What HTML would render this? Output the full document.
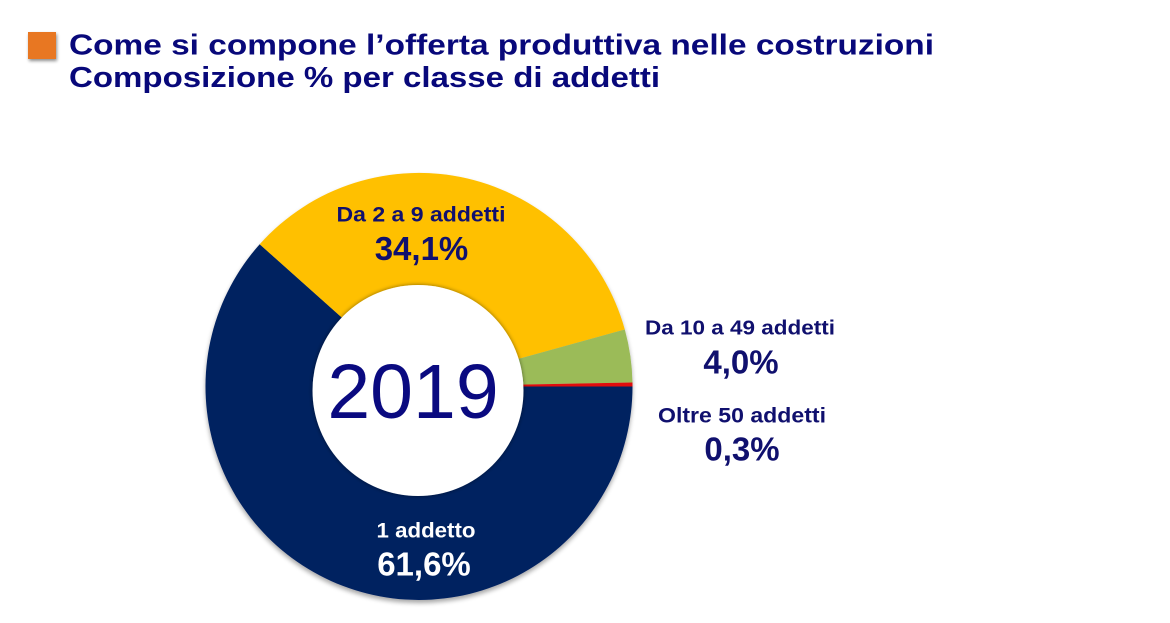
<!DOCTYPE html>
<html>
<head>
<meta charset="utf-8">
<style>
  html, body { margin: 0; padding: 0; background: #ffffff; }
  body { width: 1170px; height: 623px; overflow: hidden; }
  svg { display: block; }
</style>
</head>
<body>
<svg width="1170" height="623" viewBox="0 0 1170 623" xmlns="http://www.w3.org/2000/svg">
  <defs>
    <filter id="sq" x="-30%" y="-30%" width="170%" height="170%">
      <feGaussianBlur in="SourceAlpha" stdDeviation="1.5"/>
      <feOffset dx="1" dy="2" result="o"/>
      <feComponentTransfer><feFuncA type="linear" slope="0.45"/></feComponentTransfer>
      <feMerge><feMergeNode/><feMergeNode in="SourceGraphic"/></feMerge>
    </filter>
    <filter id="pie" x="-10%" y="-10%" width="120%" height="120%">
      <feGaussianBlur in="SourceAlpha" stdDeviation="2.5"/>
      <feOffset dx="0" dy="3" result="o"/>
      <feComponentTransfer><feFuncA type="linear" slope="0.35"/></feComponentTransfer>
      <feMerge><feMergeNode/><feMergeNode in="SourceGraphic"/></feMerge>
    </filter>
    <filter id="hole" x="-20%" y="-20%" width="140%" height="140%">
      <feGaussianBlur in="SourceAlpha" stdDeviation="2"/>
      <feOffset dx="0" dy="0" result="o"/>
      <feComponentTransfer><feFuncA type="linear" slope="0.5"/></feComponentTransfer>
      <feMerge><feMergeNode/><feMergeNode in="SourceGraphic"/></feMerge>
    </filter>
  </defs>

  <!-- Title -->
  <rect x="28" y="32" width="28" height="27" fill="#E87722" filter="url(#sq)"/>
  <text x="69" y="54.5" font-family="'Liberation Sans', sans-serif" font-weight="bold" font-size="29" fill="#08087A" textLength="865" lengthAdjust="spacingAndGlyphs">Come si compone l’offerta produttiva nelle costruzioni</text>
  <text x="69" y="87" font-family="'Liberation Sans', sans-serif" font-weight="bold" font-size="29" fill="#08087A" textLength="591" lengthAdjust="spacingAndGlyphs">Composizione % per classe di addetti</text>

  <!-- Donut -->
  <g filter="url(#pie)">
    <path d="M419,386.5 L632.5,386.5 A213.5,213.5 0 1 1 259.7,244.3 Z" fill="#002060"/>
    <path d="M419,386.5 L259.7,244.3 A213.5,213.5 0 0 1 624.8,329.5 Z" fill="#FFC000"/>
    <path d="M419,386.5 L624.8,329.5 A213.5,213.5 0 0 1 632.46,382.5 Z" fill="#9BBB59"/>
    <path d="M419,386.5 L632.46,382.5 A213.5,213.5 0 0 1 632.5,386.5 Z" fill="#E01010"/>
  </g>
  <circle cx="418" cy="390.5" r="105.5" fill="#ffffff" filter="url(#hole)"/>

  <text x="413" y="418" text-anchor="middle" font-family="'Liberation Sans', sans-serif" font-size="77" fill="#0A0A80">2019</text>

  <!-- Slice labels -->
  <text x="421" y="221.5" text-anchor="middle" font-family="'Liberation Sans', sans-serif" font-weight="bold" font-size="21" fill="#10106E" textLength="169" lengthAdjust="spacingAndGlyphs">Da 2 a 9 addetti</text>
  <text x="421.5" y="260" text-anchor="middle" font-family="'Liberation Sans', sans-serif" font-weight="bold" font-size="33" fill="#10106E">34,1%</text>

  <text x="426" y="537.3" text-anchor="middle" font-family="'Liberation Sans', sans-serif" font-weight="bold" font-size="21" fill="#ffffff" textLength="99" lengthAdjust="spacingAndGlyphs">1 addetto</text>
  <text x="424" y="575.7" text-anchor="middle" font-family="'Liberation Sans', sans-serif" font-weight="bold" font-size="33" fill="#ffffff">61,6%</text>

  <text x="740" y="334.3" text-anchor="middle" font-family="'Liberation Sans', sans-serif" font-weight="bold" font-size="20.5" fill="#10106E" textLength="190" lengthAdjust="spacingAndGlyphs">Da 10 a 49 addetti</text>
  <text x="741" y="373.3" text-anchor="middle" font-family="'Liberation Sans', sans-serif" font-weight="bold" font-size="33" fill="#10106E">4,0%</text>

  <text x="742" y="422.3" text-anchor="middle" font-family="'Liberation Sans', sans-serif" font-weight="bold" font-size="21" fill="#10106E" textLength="168" lengthAdjust="spacingAndGlyphs">Oltre 50 addetti</text>
  <text x="742" y="460.7" text-anchor="middle" font-family="'Liberation Sans', sans-serif" font-weight="bold" font-size="33" fill="#10106E">0,3%</text>
</svg>
</body>
</html>
